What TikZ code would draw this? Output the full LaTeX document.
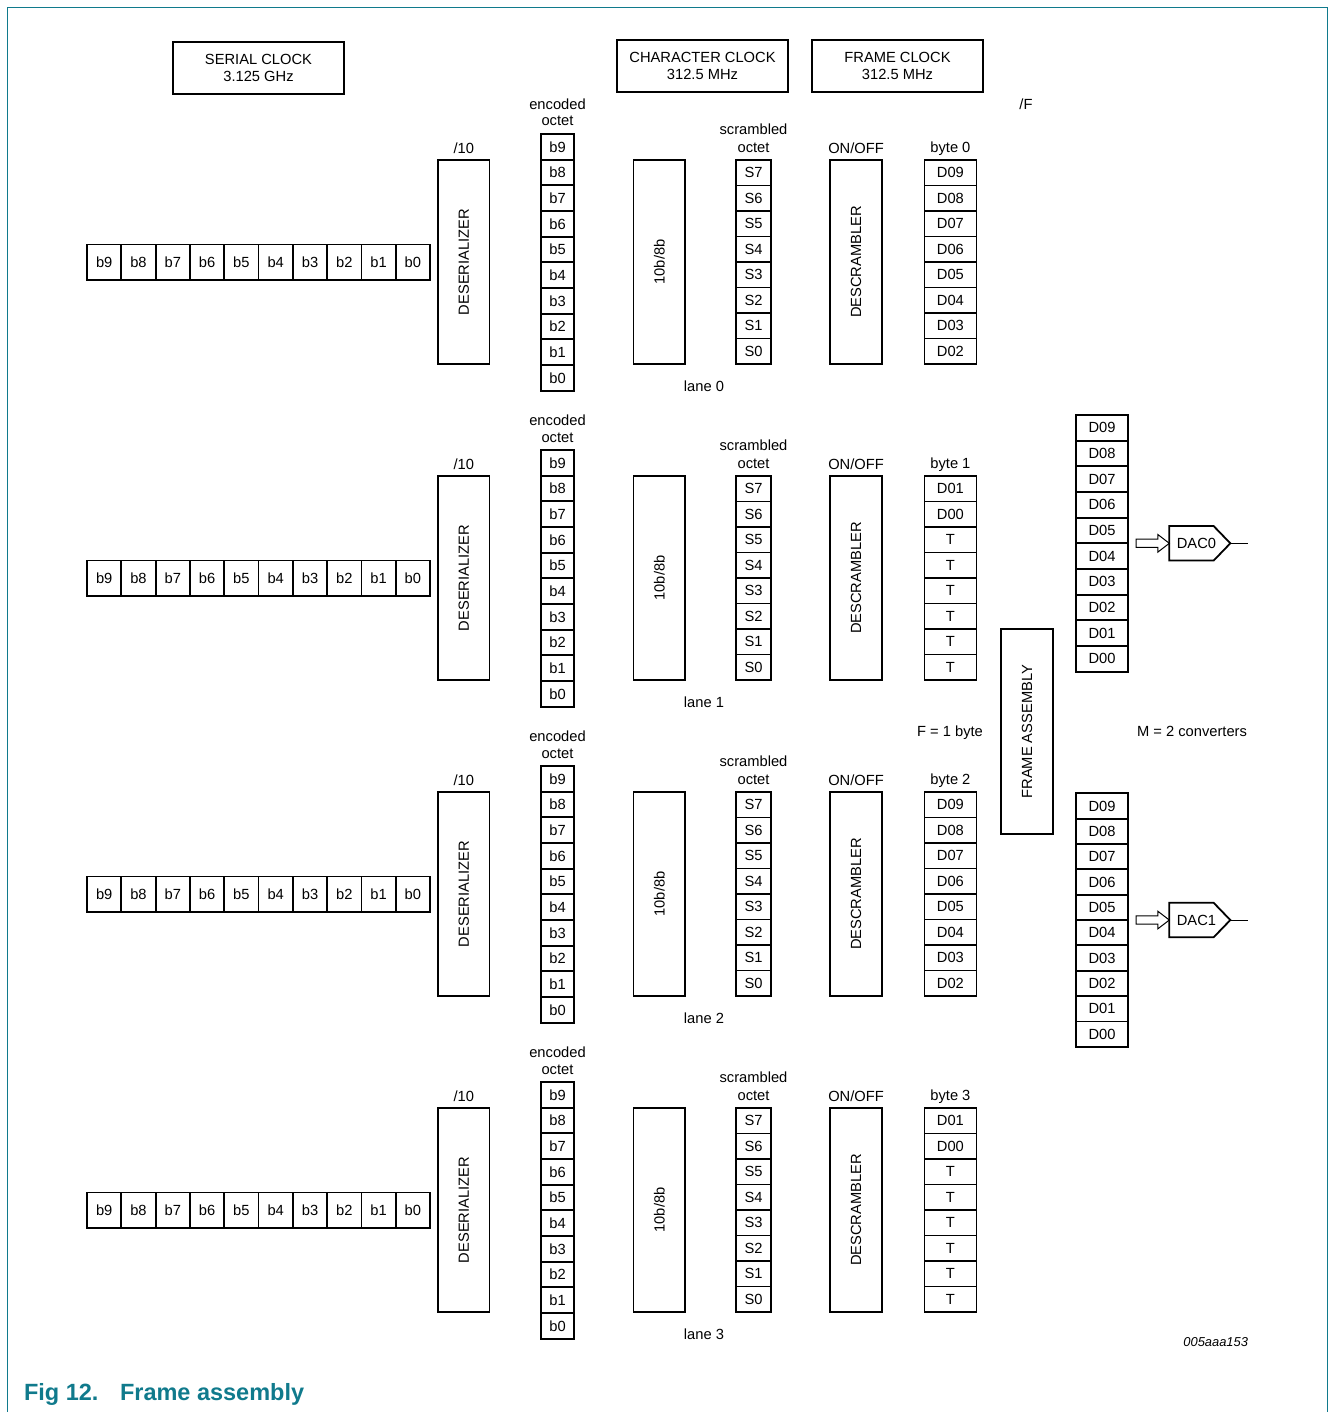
\documentclass[tikz,border=0pt]{standalone}
\usepackage{fontspec}
\setmainfont{Liberation Sans}
\usepackage{xcolor}
\usepackage{tikz}
\usetikzlibrary{positioning,shapes.symbols,shapes.arrows}
\definecolor{figteal}{RGB}{16,122,140}

\begin{document}
\begin{tikzpicture}[
    x=1pt, y=-1pt,
    font=\fontsize{14.7}{16.7}\selectfont,
    every node/.style={inner sep=0pt, outer sep=0pt},
    box/.style={%
      draw,
      line width=1.8pt,
    },
    bit/.style={box, minimum width=34.3pt, minimum height=35.5pt},
    cell/.style={box, minimum width=33.5pt, minimum height=25.67pt},
    scell/.style={box, minimum width=35pt, minimum height=25.5pt},
    dcell/.style={box, minimum width=52pt, minimum height=25.5pt},
    block/.style={box, rotate=90, minimum width=204pt, minimum height=51.5pt},
    clock/.style={box, align=center, minimum width=171.5pt, minimum height=51.7pt},
    lbl/.style={anchor=base},
    dac/.style={box, signal, signal to=east, signal pointer angle=92,
      minimum width=61pt, minimum height=34.5pt},
    hollow/.style={draw, line width=1pt, single arrow, inner xsep=0pt, inner ysep=3.65pt,
      minimum height=33.3pt, single arrow head extend=4.7pt,
      single arrow head indent=0pt, single arrow tip angle=75},
  ]

    \useasboundingbox (0,0) rectangle (1329,1412);
    \draw [figteal, line width=1.3pt] (7.3,1412) -- (7.3,7.3) -- (1327.7,7.3) -- (1327.7,1412);

    % clocks
    \node [clock, minimum height=52pt] (serclk) at (258.5,67.7) {SERIAL CLOCK\\3.125 GHz};
    \node [clock] (chrclk) at (702.5,65.9) {CHARACTER CLOCK\\312.5 MHz};
    \node [clock] (frmclk) at (897.5,65.9) {FRAME CLOCK\\312.5 MHz};

    % one row per lane
    \foreach \l in {0,...,3} {
      \pgfmathsetmacro{\dy}{316*\l}
      \ifodd\l
        \def\bytes{D01,D00,T,T,T,T,T,T}
      \else
        \def\bytes{D09,D08,D07,D06,D05,D04,D03,D02}
      \fi

      \foreach \i [count=\k from 0] in {9,...,0}
        \node [bit] (ser\l-\i) at (104.2+34.3*\k, 262.3+\dy) {b\i};

      \node [block] (des\l) at (463.8, 262+\dy) {DESERIALIZER};
      \path (des\l) ++(0,-108.7) node [lbl] (div\l) {/10};

      \foreach \i [count=\k from 0] in {9,...,0}
        \node [cell] (enc\l-\i) at (557.5, 146.8+25.67*\k+\dy) {b\i};
      \path (enc\l-9) ++(0,-20.8) node [lbl] (encb\l) {octet}
        ++(0,-16.7) node [lbl] (enca\l) {encoded};

      \node [block] (dec\l) at (659.3, 262+\dy) {10b/8b};
      \path (dec\l) ++(44.7,129.7) node [lbl] (lane\l) {lane \l};

      \foreach \i [count=\k from 0] in {7,...,0}
        \node [scell] (scr\l-\i) at (753.5, 172.75+25.5*\k+\dy) {S\i};
      \path (scr\l-7) ++(0,-20.45) node [lbl] (scrb\l) {octet}
        ++(0,-18) node [lbl] (scra\l) {scrambled};

      \node [block] (dsc\l) at (856, 262+\dy) {DESCRAMBLER};
      \path (dsc\l) ++(0,-108.7) node [lbl] (onoff\l) {ON/OFF};

      \foreach \t [count=\k from 0] in \bytes
        \node [dcell] (byt\l-\k) at (950.4, 172.75+25.5*\k+\dy) {\t};
      \path (byt\l-0) ++(0,-20.05) node [lbl] (bytl\l) {byte \l};
    }

    \node [block, minimum width=205pt] (frm) at (1027,731.7) {FRAME ASSEMBLY};
    \node [lbl] (divF) at (1026,110) {/F};
    \node [lbl] (fsize) at (950,736.7) {F = 1 byte};
    \node [lbl] (msize) at (1192,736.7) {M = 2 converters};

    % converter words
    \foreach \c/\top/\p in {0/427.8/25.67, 1/806/25.34} {
      \foreach \i [count=\k from 0] in {9,...,0}
        \node [dcell, minimum height=\p pt] (out\c-\i) at (1102, \top+\p*\k) {D0\i};
      \path (out\c-5.south east) ++(8,0) node [hollow, anchor=tail] (arr\c) {};
      \node [dac, anchor=west] (dac\c) at (arr\c.tip) {\hspace*{5pt}DAC\c\hspace*{-5pt}};
      \path (dac\c.east) ++(18,0) coordinate (dout\c);
      \draw [line width=1pt] (dac\c.east) -- (dout\c);
    }

    \node [anchor=base east, font=\fontsize{12.9}{14}\selectfont\itshape] (figid) at (1248,1346) {005aaa153};
    \node [anchor=base west, text=figteal, font=\fontsize{23.5}{26}\selectfont\bfseries] (figno) at (24,1400) {Fig 12.};
    \node [anchor=base west, text=figteal, font=\fontsize{23.5}{26}\selectfont\bfseries] (figttl) at (120,1400) {Frame assembly};
\end{tikzpicture}
\end{document}
